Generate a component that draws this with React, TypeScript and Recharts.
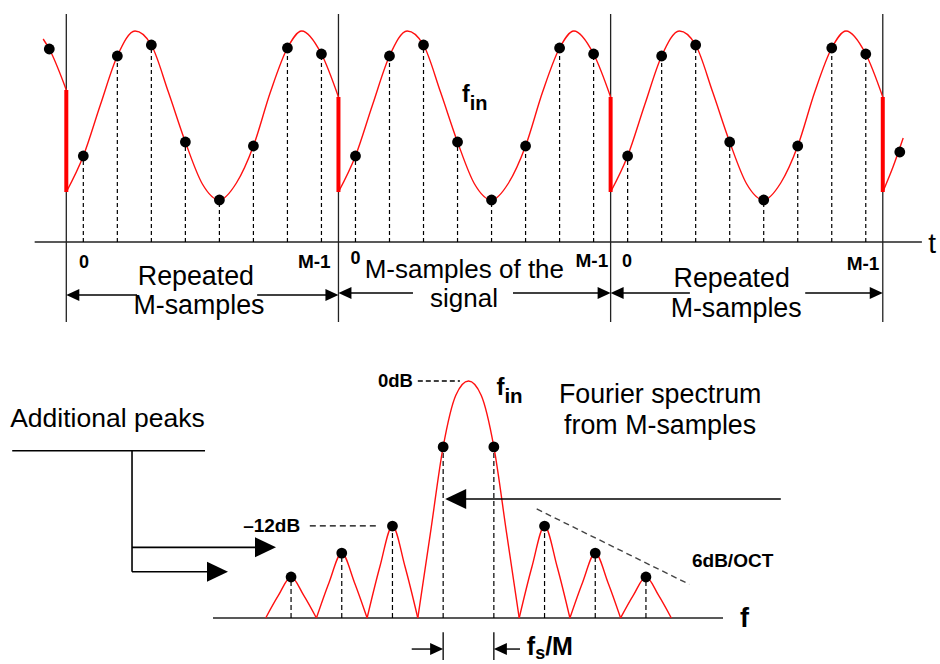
import React from 'react';
import { ComposedChart, Line, Scatter, XAxis, YAxis, ReferenceLine, ReferenceDot } from 'recharts';

const FONT = '"Liberation Sans", Arial, Helvetica, sans-serif';
const RED = '#ff1010';

// ---------- Top panel: time-domain signal (t in sample periods, v in amplitude units) ----------
const M_SAMPLE_VALUES = [0.86, 1.86, 1.97, 1.0, 0.42, 0.96, 1.94, 1.88];
const SEGMENT_STARTS = [0, 8, 16];
const WAVE_OFFSETS = [-0.5, 0, 0.5, 1, 1.52, 2, 2.5, 3, 3.5, 4, 4.5, 5, 5.5, 6, 6.42, 7, 7.5];
const WAVE_VALUES = [0.5, 0.86, 1.37, 1.86, 2.11, 1.97, 1.5, 1.0, 0.58, 0.42, 0.59, 0.96, 1.5, 1.94, 2.11, 1.88, 1.45];
const LEAD_T = [-1.18, -1, -0.5];
const LEAD_V = [2.03, 1.93, 1.52];
const TAIL_T = [23.5, 23.8, 24.1];
const TAIL_V = [0.5, 0.75, 1.04];
const OUTER_SAMPLE_T = [-1, 24];
const OUTER_SAMPLE_V = [1.93, 0.9];
const BOUNDARIES = [-0.5, 7.5, 15.5, 23.5];
const SEGMENT_CAPTIONS = [
  ['Repeated', 'M-samples'],
  ['M-samples of the', 'signal'],
  ['Repeated', 'M-samples'],
];
const INDEX_LABELS = ['0', 'M-1'];

// ---------- Bottom panel: spectrum (f in bins of fs/M, v relative amplitude) ----------
const LOBE_CENTERS = [-3.5, -2.5, -1.5, 1.5, 2.5, 3.5];
const LOBE_PEAKS = [0.173, 0.274, 0.388, 0.388, 0.274, 0.173];
const LOBE_SHOULDERS = [0.095, 0.15, 0.215, 0.215, 0.15, 0.095];
const MAIN_F = [-1, -0.75, -0.5, -0.25, 0, 0.25, 0.5, 0.75, 1];
const MAIN_V = [0, 0.36, 0.722, 0.94, 1.0, 0.94, 0.722, 0.36, 0];
const MAIN_DOT_F = [-0.5, 0.5];

// ---------- derived series ----------
const waveSegments = SEGMENT_STARTS.map((s) => WAVE_OFFSETS.map((o, k) => ({ t: s + o, v: WAVE_VALUES[k] })));
const leadCurve = LEAD_T.map((t, k) => ({ t, v: LEAD_V[k] }));
const tailCurve = TAIL_T.map((t, k) => ({ t, v: TAIL_V[k] }));
const samplePoints = [
  ...SEGMENT_STARTS.flatMap((s) => M_SAMPLE_VALUES.map((v, i) => ({ t: s + i, v }))),
  ...OUTER_SAMPLE_T.map((t, k) => ({ t, v: OUTER_SAMPLE_V[k] })),
];
const jumps = BOUNDARIES.map((b, k) => ({
  t: b,
  top: k === 0 ? LEAD_V[LEAD_V.length - 1] : WAVE_VALUES[WAVE_VALUES.length - 1],
  bottom: k === BOUNDARIES.length - 1 ? TAIL_V[0] : WAVE_VALUES[0],
}));

const lobes = LOBE_CENTERS.map((c, k) => [
  { t: c - 0.5, v: 0 },
  { t: c - 0.25, v: LOBE_SHOULDERS[k] },
  { t: c, v: LOBE_PEAKS[k] },
  { t: c + 0.25, v: LOBE_SHOULDERS[k] },
  { t: c + 0.5, v: 0 },
]);
const mainLobe = MAIN_F.map((t, k) => ({ t, v: MAIN_V[k] }));
const spectrumDots = [
  ...LOBE_CENTERS.map((c, k) => ({ t: c, v: LOBE_PEAKS[k] })),
  ...MAIN_DOT_F.map((f) => ({ t: f, v: MAIN_V[MAIN_F.indexOf(f)] })),
];

// ---------- helpers ----------
type TextOpts = { size: number; weight?: string | number; anchor?: 'start' | 'middle' | 'end' };
const txt = (key: string, x: number, y: number, content: React.ReactNode, o: TextOpts) => (
  <ReferenceDot
    key={key}
    x={x}
    y={y}
    r={0}
    ifOverflow="visible"
    shape={(p: any) => (
      <text
        x={p.cx}
        y={p.cy}
        fontSize={o.size}
        fontWeight={o.weight ?? 'normal'}
        textAnchor={o.anchor ?? 'middle'}
        fontFamily={FONT}
        fill="#000"
      >
        {content}
      </text>
    )}
  />
);

const arrowShape = (len: number, half: number, color: string, w: number) => (p: any) => {
  const { x1, y1, x2, y2 } = p;
  const dx = x2 - x1;
  const dy = y2 - y1;
  const L = Math.hypot(dx, dy) || 1;
  const ux = dx / L;
  const uy = dy / L;
  const bx = x2 - ux * len;
  const by = y2 - uy * len;
  const nx = -uy * half;
  const ny = ux * half;
  return (
    <g>
      <line x1={x1} y1={y1} x2={bx + ux} y2={by + uy} stroke={color} strokeWidth={w} />
      <polygon points={`${x2},${y2} ${bx + nx},${by + ny} ${bx - nx},${by - ny}`} fill={color} />
    </g>
  );
};

const arrow = (key: string, from: [number, number], to: [number, number], len: number, half: number, w = 1.5) => (
  <ReferenceLine
    key={key}
    segment={[{ x: from[0], y: from[1] }, { x: to[0], y: to[1] }]}
    ifOverflow="visible"
    shape={arrowShape(len, half, '#000', w)}
  />
);

const seg = (key: string, from: [number, number], to: [number, number], stroke: string, w: number, dash?: string) => (
  <ReferenceLine
    key={key}
    segment={[{ x: from[0], y: from[1] }, { x: to[0], y: to[1] }]}
    stroke={stroke}
    strokeWidth={w}
    strokeDasharray={dash}
    ifOverflow="visible"
  />
);

const CAP = 26.8;
const BOLD = 19;

const idxLabelPos = [
  [[0.02, -0.26], [6.79, -0.26]],
  [[8.0, -0.22], [14.95, -0.25]],
  [[15.98, -0.25], [22.92, -0.28]],
];
const captionPos = [
  [[3.31, -0.43], [3.4, -0.72]],
  [[11.2, -0.36], [11.19, -0.65]],
  [[19.06, -0.45], [19.19, -0.75]],
];
const captionArrows = [
  { y: -0.53, left: 1.58, right: 5.11 },
  { y: -0.51, left: 9.69, right: 12.63 },
  { y: -0.51, left: 17.83, right: 21.22 },
];

export default function App() {
  return (
    <div style={{ position: 'absolute', left: 0, top: 0, width: 940, height: 664, background: '#fff', fontFamily: FONT }}>
      {/* ---------------- time domain ---------------- */}
      <ComposedChart width={940} height={340} margin={{ top: 0, right: 0, bottom: 0, left: 0 }}>
        <XAxis type="number" dataKey="t" domain={[-2.449, 25.182]} hide allowDataOverflow />
        <YAxis type="number" domain={[-0.98, 2.42]} hide allowDataOverflow />

        {BOUNDARIES.map((b, k) => seg(`bd${k}`, [b, 2.28], [b, -0.8], '#222', 1.3))}
        {seg('taxis', [-1.43, 0], [24.65, 0], '#222', 1.6)}
        {samplePoints.filter((p) => p.t >= 0 && p.t <= 23).map((p, k) => seg(`sd${k}`, [p.t, 0], [p.t, p.v], '#000', 1.2, '4 3'))}

        <Line data={leadCurve} dataKey="v" type="monotone" stroke={RED} strokeWidth={1.4} dot={false} activeDot={false} isAnimationActive={false} />
        {waveSegments.map((d, k) => (
          <Line key={`w${k}`} data={d} dataKey="v" type="monotone" stroke={RED} strokeWidth={1.4} dot={false} activeDot={false} isAnimationActive={false} />
        ))}
        <Line data={tailCurve} dataKey="v" type="monotone" stroke={RED} strokeWidth={1.4} dot={false} activeDot={false} isAnimationActive={false} />

        {jumps.map((j, k) => seg(`jp${k}`, [j.t, j.top], [j.t, j.bottom], '#ff0000', 4))}

        <Scatter
          data={samplePoints}
          dataKey="v"
          isAnimationActive={false}
          shape={(p: any) => <circle cx={p.cx} cy={p.cy} r={5.4} fill="#000" />}
        />

        {SEGMENT_STARTS.map((s, k) => [
          txt(`i0${k}`, idxLabelPos[k][0][0], idxLabelPos[k][0][1], INDEX_LABELS[0], { size: 18, weight: 'bold' }),
          txt(`i1${k}`, idxLabelPos[k][1][0], idxLabelPos[k][1][1], INDEX_LABELS[1], { size: BOLD, weight: 'bold' }),
          txt(`c0${k}`, captionPos[k][0][0], captionPos[k][0][1], SEGMENT_CAPTIONS[k][0], { size: k === 1 ? 26 : CAP }),
          txt(`c1${k}`, captionPos[k][1][0], captionPos[k][1][1], SEGMENT_CAPTIONS[k][1], { size: k === 1 ? 26 : CAP }),
          arrow(`al${k}`, [captionArrows[k].left, captionArrows[k].y], [BOUNDARIES[k], captionArrows[k].y], 13, 6),
          arrow(`ar${k}`, [captionArrows[k].right, captionArrows[k].y], [BOUNDARIES[k + 1], captionArrows[k].y], 13, 6),
        ])}
        {txt('tlab', 24.95, -0.11, 't', { size: 28 })}
        {txt('fin1', 11.13, 1.4, <>f<tspan dy={8} fontSize={20}>in</tspan></>, { size: 23, weight: 'bold', anchor: 'start' })}
      </ComposedChart>

      {/* ---------------- spectrum ---------------- */}
      <ComposedChart width={940} height={324} margin={{ top: 0, right: 0, bottom: 0, left: 0 }}>
        <XAxis type="number" dataKey="t" domain={[-9.241, 9.3]} hide allowDataOverflow />
        <YAxis type="number" domain={[-0.1941, 1.173]} hide allowDataOverflow />

        {seg('fbase', [-5.04, 0], [5.02, 0], '#222', 1.6)}
        {spectrumDots.map((p, k) => seg(`sdd${k}`, [p.t, 0], [p.t, p.v], '#000', 1.2, '5 3'))}
        {seg('db0', [-1.0, 1.0], [-0.17, 1.0], '#000', 1.3, '5 3')}
        {seg('db12', [-3.13, 0.389], [-1.8, 0.389], '#000', 1.3, '6 4')}
        {seg('slope', [1.345, 0.46], [4.355, 0.142], '#444', 1.4, '6 4')}

        {lobes.map((d, k) => (
          <Line key={`lb${k}`} data={d} dataKey="v" type="monotone" stroke={RED} strokeWidth={1.4} dot={false} activeDot={false} isAnimationActive={false} />
        ))}
        <Line data={mainLobe} dataKey="v" type="monotone" stroke={RED} strokeWidth={1.4} dot={false} activeDot={false} isAnimationActive={false} />

        <Scatter
          data={spectrumDots}
          dataKey="v"
          isAnimationActive={false}
          shape={(p: any) => <circle cx={p.cx} cy={p.cy} r={5.4} fill="#000" />}
        />

        {/* Additional peaks bracket */}
        {txt('addp', -9.04, 0.806, 'Additional peaks', { size: 26.5, anchor: 'start' })}
        {seg('brh', [-9.0, 0.706], [-5.197, 0.706], '#000', 1.6)}
        {seg('brv', [-6.637, 0.706], [-6.637, 0.195], '#000', 1.6)}
        {arrow('bra1', [-6.637, 0.298], [-3.797, 0.298], 21, 10, 1.6)}
        {arrow('bra2', [-6.637, 0.195], [-4.744, 0.195], 21, 10, 1.6)}

        {txt('l0db', -1.095, 0.975, '0dB', { size: 18.5, weight: 'bold', anchor: 'end' })}
        {txt('l12db', -3.32, 0.363, '\u201312dB', { size: BOLD, weight: 'bold', anchor: 'end' })}
        {txt('fin2', 0.55, 0.941, <>f<tspan dy={8} fontSize={20.5}>in</tspan></>, { size: 24, weight: 'bold', anchor: 'start' })}
        {txt('four1', 3.78, 0.907, 'Fourier spectrum', { size: CAP })}
        {txt('four2', 3.78, 0.776, 'from M-samples', { size: CAP })}
        {arrow('bigarrow', [6.16, 0.502], [-0.46, 0.502], 21, 10, 1.6)}
        {txt('oct', 4.408, 0.216, '6dB/OCT', { size: BOLD, weight: 'bold', anchor: 'start' })}
        {txt('flab', 5.355, -0.038, 'f', { size: 27, weight: 'bold', anchor: 'start' })}

        {/* fs/M spacing marker */}
        {seg('fsl', [-0.5, -0.06], [-0.5, -0.177], '#000', 1.3)}
        {seg('fsr', [0.5, -0.06], [0.5, -0.177], '#000', 1.3)}
        {arrow('fsa1', [-1.12, -0.131], [-0.5, -0.131], 13, 6, 1.4)}
        {arrow('fsa2', [1.016, -0.131], [0.5, -0.131], 13, 6, 1.4)}
        {txt('fsm', 1.15, -0.157, <>f<tspan dy={4} fontSize={18}>s</tspan><tspan dy={-4}>/M</tspan></>, { size: 25, weight: 'bold', anchor: 'start' })}
      </ComposedChart>
    </div>
  );
}
